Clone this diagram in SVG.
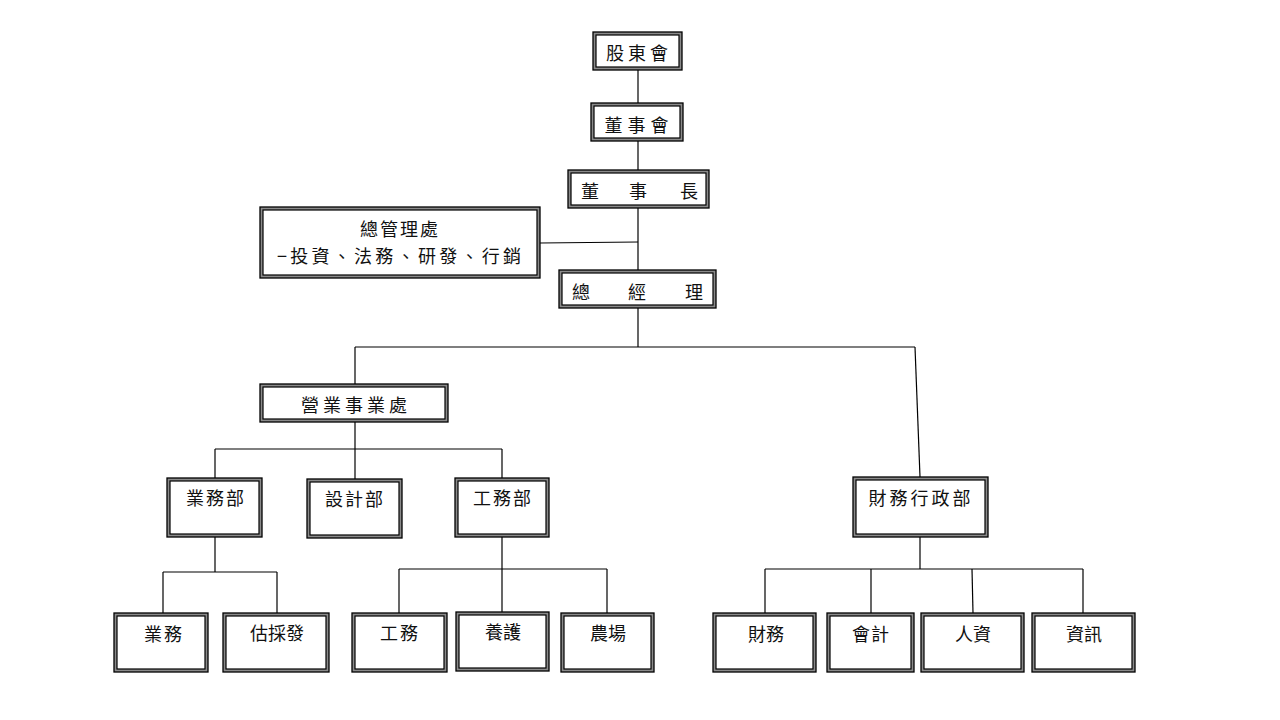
<svg xmlns="http://www.w3.org/2000/svg" width="1280" height="720" viewBox="0 0 1280 720">
<style>
.o{fill:#8a8a8a;stroke:#000;stroke-width:1.3}
.i{fill:#fff;stroke:#000;stroke-width:1.2}
.t{font-family:"Noto Sans CJK TC","Noto Sans CJK SC",sans-serif;font-size:18px;fill:#111;text-anchor:middle;dominant-baseline:central}
.c line,.c polyline{stroke:#000;stroke-width:1.2;fill:none}
</style>
<rect width="1280" height="720" fill="#fff"/>
<g class="c" id="connectors">
<line x1="638" y1="70" x2="638" y2="103"/>
<line x1="638" y1="141" x2="638" y2="170"/>
<line x1="638" y1="208" x2="638" y2="270"/>
<line x1="540" y1="243" x2="638" y2="242"/>
<line x1="638" y1="308" x2="638" y2="347"/>
<line x1="355" y1="347" x2="915" y2="347"/>
<line x1="355" y1="347" x2="355" y2="384"/>
<line x1="915" y1="347" x2="920" y2="477"/>
<line x1="355" y1="422" x2="355" y2="479"/>
<line x1="215" y1="449" x2="502" y2="449"/>
<line x1="215" y1="449" x2="215" y2="478"/>
<line x1="502" y1="449" x2="502" y2="478"/>
<line x1="215" y1="537" x2="215" y2="572"/>
<line x1="163" y1="572" x2="277" y2="572"/>
<line x1="163" y1="572" x2="163" y2="613"/>
<line x1="277" y1="572" x2="277" y2="613"/>
<line x1="502" y1="537" x2="502" y2="613"/>
<line x1="399" y1="569" x2="607" y2="569"/>
<line x1="399" y1="569" x2="399" y2="613"/>
<line x1="607" y1="569" x2="607" y2="613"/>
<line x1="920" y1="537" x2="920" y2="569"/>
<line x1="765" y1="569" x2="1083" y2="569"/>
<line x1="765" y1="569" x2="765" y2="613"/>
<line x1="871" y1="569" x2="871" y2="613"/>
<line x1="972" y1="569" x2="973" y2="613"/>
<line x1="1083" y1="569" x2="1083" y2="613"/>
</g>
<g id="n-gudong"><rect class="o" x="593" y="32" width="89" height="38"/><rect class="i" x="596" y="35" width="83" height="32"/><text class="t" x="639" y="52" letter-spacing="4">股東會</text></g>
<g id="n-dongshihui"><rect class="o" x="591" y="103" width="92" height="38"/><rect class="i" x="594" y="106" width="86" height="32"/><text class="t" x="639" y="124" letter-spacing="5">董事會</text></g>
<g id="n-dongshizhang"><rect class="o" x="568" y="170" width="141" height="38"/><rect class="i" x="571" y="173" width="135" height="32"/><text class="t" y="190"><tspan x="590">董</tspan><tspan x="638">事</tspan><tspan x="689">長</tspan></text></g>
<g id="n-zongguanli"><rect class="o" x="260" y="207" width="280" height="71"/><rect class="i" x="263" y="210" width="274" height="65"/><text class="t" x="400" y="228" letter-spacing="2">總管理處</text><text class="t" x="399" y="255" textLength="244" lengthAdjust="spacing">−投資、法務、研發、行銷</text></g>
<g id="n-zongjingli"><rect class="o" x="559" y="270" width="157" height="38"/><rect class="i" x="562" y="273" width="151" height="32"/><text class="t" y="291"><tspan x="581">總</tspan><tspan x="637">經</tspan><tspan x="694">理</tspan></text></g>
<g id="n-yingye"><rect class="o" x="260" y="384" width="188" height="38"/><rect class="i" x="263" y="387" width="182" height="32"/><text class="t" x="356" y="404" letter-spacing="4">營業事業處</text></g>
<g id="n-yewubu"><rect class="o" x="167" y="478" width="95" height="59"/><rect class="i" x="170" y="481" width="89" height="53"/><text class="t" x="216" y="497" letter-spacing="2">業務部</text></g>
<g id="n-shejibu"><rect class="o" x="307" y="479" width="95" height="59"/><rect class="i" x="310" y="482" width="89" height="53"/><text class="t" x="355" y="498" letter-spacing="2">設計部</text></g>
<g id="n-gongwubu"><rect class="o" x="455" y="478" width="94" height="59"/><rect class="i" x="458" y="481" width="88" height="53"/><text class="t" x="503" y="497" letter-spacing="2">工務部</text></g>
<g id="n-caiwuxingzheng"><rect class="o" x="853" y="477" width="135" height="60"/><rect class="i" x="856" y="480" width="129" height="54"/><text class="t" x="921" y="497" letter-spacing="3">財務行政部</text></g>
<g id="n-yewu"><rect class="o" x="114" y="613" width="94" height="59"/><rect class="i" x="117" y="616" width="88" height="53"/><text class="t" x="164" y="633" letter-spacing="2">業務</text></g>
<g id="n-gucaifa"><rect class="o" x="223" y="613" width="106" height="59"/><rect class="i" x="226" y="616" width="100" height="53"/><text class="t" x="277" y="632">估採發</text></g>
<g id="n-gongwu"><rect class="o" x="352" y="613" width="95" height="59"/><rect class="i" x="355" y="616" width="89" height="53"/><text class="t" x="400" y="632" letter-spacing="2">工務</text></g>
<g id="n-yanghu"><rect class="o" x="456" y="612" width="93" height="59"/><rect class="i" x="459" y="615" width="87" height="53"/><text class="t" x="503" y="631">養護</text></g>
<g id="n-nongchang"><rect class="o" x="561" y="613" width="93" height="59"/><rect class="i" x="564" y="616" width="87" height="53"/><text class="t" x="608" y="632">農場</text></g>
<g id="n-caiwu"><rect class="o" x="713" y="613" width="103" height="59"/><rect class="i" x="716" y="616" width="97" height="53"/><text class="t" x="766" y="633">財務</text></g>
<g id="n-kuaiji"><rect class="o" x="827" y="613" width="87" height="59"/><rect class="i" x="830" y="616" width="81" height="53"/><text class="t" x="871" y="633" letter-spacing="1">會計</text></g>
<g id="n-renzi"><rect class="o" x="921" y="613" width="103" height="59"/><rect class="i" x="924" y="616" width="97" height="53"/><text class="t" x="973" y="633">人資</text></g>
<g id="n-zixun"><rect class="o" x="1032" y="613" width="103" height="59"/><rect class="i" x="1035" y="616" width="97" height="53"/><text class="t" x="1084" y="633">資訊</text></g>
</svg>
